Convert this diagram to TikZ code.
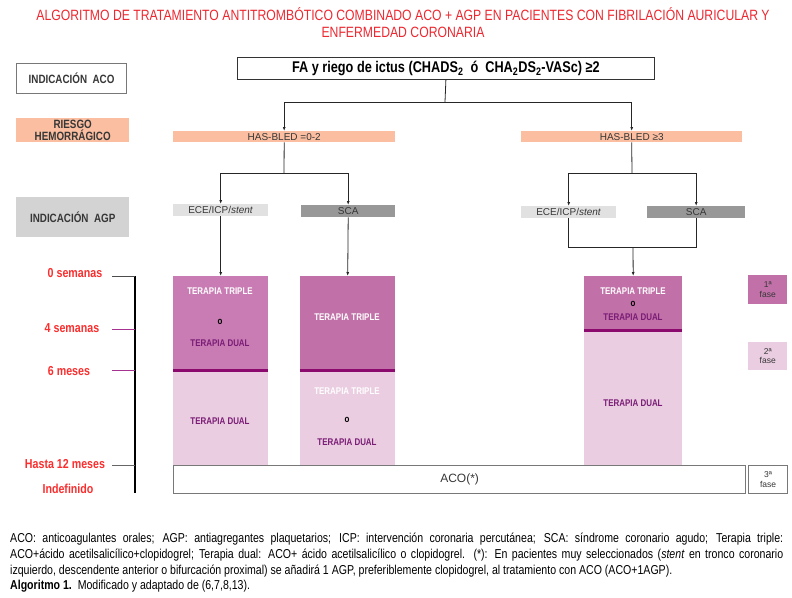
\documentclass[tikz,border=0pt]{standalone}
\usepackage{fontspec}
\setmainfont{Liberation Sans}
\newfontfamily\narrow[FakeStretch=0.82]{Liberation Sans}
\usetikzlibrary{arrows.meta}
\definecolor{titulo}{RGB}{237,40,48}
\definecolor{rojo}{RGB}{252,45,45}
\definecolor{salmon}{RGB}{251,190,160}
\definecolor{grisagp}{RGB}{211,211,211}
\definecolor{grisece}{RGB}{225,225,225}
\definecolor{grissca}{RGB}{152,152,152}
\definecolor{grisborde}{RGB}{120,120,120}
\definecolor{gristexto}{RGB}{55,55,55}
\definecolor{lilauno}{RGB}{201,124,180}
\definecolor{lilados}{RGB}{193,112,168}
\definecolor{lilaclaro}{RGB}{234,205,225}
\definecolor{morado}{RGB}{140,10,110}
\definecolor{marca}{RGB}{165,50,145}
\definecolor{textomorado}{RGB}{122,28,118}
\begin{document}
\begin{tikzpicture}[x=1pt,y=-1pt,
  caja/.style={inner sep=0pt,anchor=north west,text=gristexto,font=\fontsize{10}{11}\selectfont},
  rotulo/.style={caja,align=center,font=\narrow\bfseries\fontsize{12}{12.5}\selectfont},
  fase/.style={caja,align=center,font=\fontsize{8.5}{9.5}\selectfont},
  tera/.style={font=\narrow\bfseries\fontsize{9.7}{10}\selectfont,inner sep=0pt},
  blanco/.style={tera,text=white},
  dual/.style={tera,text=textomorado},
  letrao/.style={tera,text=black},
  tiempo/.style={font=\narrow\bfseries\fontsize{13}{14}\selectfont,text=rojo},
  flecha/.style={draw=black!85,line width=0.8pt,-{Latex[length=4pt,width=3pt]}},
  linea/.style={draw=black!85,line width=0.8pt},
  corte/.style={draw=morado,line width=2.2pt}]
\useasboundingbox (0,0) rectangle (792,597);
\node[font=\narrow\fontsize{14.9}{17}\selectfont,text=titulo,align=center] (tit) at (403,23)
  {ALGORITMO DE TRATAMIENTO ANTITROMBÓTICO COMBINADO ACO + AGP EN PACIENTES CON FIBRILACIÓN AURICULAR Y\\ENFERMEDAD CORONARIA};
%%%%
\node[rotulo,draw=grisborde,line width=1.2pt,fill=white,minimum width=110,minimum height=30] (iaco) at (16,63) {INDICACIÓN\ \ ACO};
\node[rotulo,fill=salmon,minimum width=113,minimum height=24] (ries) at (16,118) {RIESGO\\HEMORRÁGICO};
\node[rotulo,fill=grisagp,minimum width=113,minimum height=40] (iagp) at (16,197) {INDICACIÓN\ \ AGP};
\node[caja,draw=black!80,line width=0.8pt,minimum width=417,minimum height=22,text=black,font=\narrow\bfseries\fontsize{15.5}{16}\selectfont] (fa) at (237,57)
  {FA y riego de ictus (CHADS\textsubscript{2}\ \ ó\ \ CHA\textsubscript{2}DS\textsubscript{2}-VASc) ≥2};
\node[caja,fill=salmon,minimum width=222,minimum height=11] (has1) at (173,131) {HAS-BLED =0-2};
\node[caja,fill=salmon,minimum width=221,minimum height=11] (has2) at (521,131) {HAS-BLED ≥3};
\node[caja,fill=grisece,minimum width=95,minimum height=12] (ece1) at (173,204) {ECE/ICP/\textit{stent}};
\node[caja,fill=grissca,minimum width=94,minimum height=12] (sca1) at (301,205) {SCA};
\node[caja,fill=grisece,minimum width=95,minimum height=12] (ece2) at (521,206) {ECE/ICP/\textit{stent}};
\node[caja,fill=grissca,minimum width=98,minimum height=12] (sca2) at (647,206) {SCA};
%%%%
\node[caja,fill=lilauno,minimum width=95,minimum height=94] (t1a) at (173,276) {};
\node[caja,fill=lilaclaro,minimum width=95,minimum height=95] (t1b) at (173,370) {};
\node[caja,fill=lilados,minimum width=95,minimum height=94] (t2a) at (300,276) {};
\node[caja,fill=lilaclaro,minimum width=95,minimum height=95] (t2b) at (300,370) {};
\node[caja,fill=lilados,minimum width=98,minimum height=54] (t3a) at (584,276) {};
\node[caja,fill=lilaclaro,minimum width=98,minimum height=135] (t3b) at (584,330) {};
\draw[corte] (t1a.south west) -- (t1a.south east);
\draw[corte] (t2a.south west) -- (t2a.south east);
\draw[corte] (t3a.south west) -- (t3a.south east);
\node[blanco] (a1) at (220,291) {TERAPIA TRIPLE};
\node[letrao] (a2) at (220,322) {o};
\node[dual] (a3) at (220,343) {TERAPIA DUAL};
\node[dual] (b1) at (220,421) {TERAPIA DUAL};
\node[blanco] (c1) at (347,317) {TERAPIA TRIPLE};
\node[blanco] (d1) at (347,391) {TERAPIA TRIPLE};
\node[letrao] (d2) at (347,420) {o};
\node[dual] (d3) at (347,442) {TERAPIA DUAL};
\node[blanco] (e1) at (633,291) {TERAPIA TRIPLE};
\node[letrao] (e2) at (633,304) {o};
\node[dual] (e3) at (633,317) {TERAPIA DUAL};
\node[dual] (g1) at (633,403) {TERAPIA DUAL};
\node[caja,draw=grisborde,line width=1.2pt,fill=white,minimum width=572,minimum height=28,font=\fontsize{12}{13}\selectfont] (aco) at (173,465) {ACO(*)};
\node[fase,fill=lilados,minimum width=39,minimum height=29] (f1) at (748,275) {1ª\\fase};
\node[fase,fill=lilaclaro,minimum width=39,minimum height=28] (f2) at (748,342) {2ª\\fase};
\node[fase,draw=grisborde,line width=1.2pt,fill=white,minimum width=39,minimum height=28] (f3) at (748,465) {3ª\\fase};
%%%%
\coordinate (r0) at (445,102);
\coordinate (r1) at (284,173);
\coordinate (r2) at (632,173);
\coordinate (r3) at (633,247);
\draw[linea] (fa.south) -- (r0);
\draw[flecha] (r0) -| (has1.north);
\draw[flecha] (r0) -| (has2.north);
\draw[linea] (has1.south) -- (r1);
\draw[flecha] (r1) -| (ece1.north);
\draw[flecha] (r1) -| (sca1.north);
\draw[linea] (has2.south) -- (r2);
\draw[flecha] (r2) -| (ece2.north);
\draw[flecha] (r2) -| (sca2.north);
\draw[flecha] (ece1.south) -- (t1a.north);
\draw[flecha] (sca1.south) -- (t2a.north);
\draw[linea] (ece2.south) |- (r3);
\draw[linea] (sca2.south) |- (r3);
\draw[flecha] (r3) -- (t3a.north);
%%%%
\draw[line width=2.6pt] (135,276) -- (135,493);
\foreach \x/\y/\m/\t/\c/\n in {75/273/276/0 semanas/black!70/s0,72/328/329/4 semanas/marca/s4,69/371/370/6 meses/marca/m6,65/464/465/Hasta 12 meses/black!60/m12}
{\node[tiempo] (\n) at (\x,\y) {\t};
 \draw[draw=\c,line width=1pt] (112,\m) -- (135,\m);}
\node[tiempo] (ind) at (68,489) {Indefinido};
%%%%
\node[anchor=north west,inner sep=0pt,text width=773pt,align=justify,font=\narrow\fontsize{12.9}{15.7}\selectfont] (nota) at (10,533)
  {ACO: anticoagulantes orales; AGP: antiagregantes plaquetarios; ICP: intervención coronaria percutánea; SCA: síndrome coronario agudo; Terapia triple:\linebreak
  ACO+ácido acetilsalicílico+clopidogrel; Terapia dual: ACO+ ácido acetilsalicílico o clopidogrel. (*): En pacientes muy seleccionados (\textit{stent} en tronco coronario\linebreak
  izquierdo, descendente anterior o bifurcación proximal) se añadirá 1 AGP, preferiblemente clopidogrel, al tratamiento con ACO (ACO+1AGP).\\
  \textbf{Algoritmo 1.}\ \ Modificado y adaptado de (6,7,8,13).};
\end{tikzpicture}
\end{document}
